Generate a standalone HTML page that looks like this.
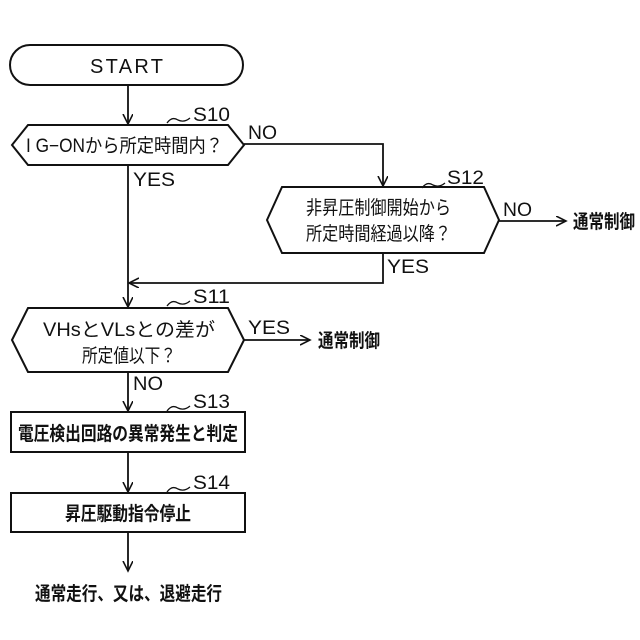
<!DOCTYPE html>
<html><head><meta charset="utf-8"><style>
html,body{margin:0;padding:0;background:#fff;}
svg{display:block;}
text{font-family:"Liberation Sans","Noto Sans CJK JP",sans-serif;fill:#111;}
.j{font-size:19px;font-weight:bold;}
.e{font-size:19px;}
.q{font-size:19px;}
</style></head><body>
<svg width="640" height="640" viewBox="0 0 640 640" xmlns="http://www.w3.org/2000/svg">
<defs><marker id="a" markerWidth="12" markerHeight="12" refX="10" refY="5" orient="auto" markerUnits="userSpaceOnUse"><path d="M0,0 L10,5 L0,10" fill="none" stroke="#111" stroke-width="1.6"/></marker></defs>
<g fill="none" stroke="#111" stroke-width="2">
<rect x="10" y="45" width="233" height="40" rx="20"/>
<polygon points="12,145 28,125 228,125 244,145 228,165 28,165"/>
<polygon points="267,220 282,187 484,187 499,220 484,253 282,253"/>
<polygon points="12,340 28,308 228,308 244,340 228,372 28,372"/>
<rect x="11" y="412" width="234" height="40"/>
<rect x="11" y="493" width="234" height="39"/>
</g>
<g fill="none" stroke="#111" stroke-width="1.8">
<line x1="128" y1="85" x2="128" y2="124" marker-end="url(#a)"/>
<polyline points="244,144 383,144 383,186" marker-end="url(#a)"/>
<line x1="128" y1="165" x2="128" y2="307" marker-end="url(#a)"/>
<polyline points="383,253 383,283 129,283" marker-end="url(#a)"/>
<line x1="499" y1="221" x2="566" y2="221" marker-end="url(#a)"/>
<line x1="244" y1="340" x2="310" y2="340" marker-end="url(#a)"/>
<line x1="128" y1="372" x2="128" y2="411" marker-end="url(#a)"/>
<line x1="128" y1="452" x2="128" y2="492" marker-end="url(#a)"/>
<line x1="128" y1="532" x2="128" y2="571" marker-end="url(#a)"/>
<path d="M167,123 q5,-7 11,-3 q6,3 12,-2" stroke-width="1.3"/>
<path d="M422,188 q5,-7 11,-3 q6,3 12,-2" stroke-width="1.3"/>
<path d="M167,306 q5,-7 11,-3 q6,3 12,-2" stroke-width="1.3"/>
<path d="M167,411 q5,-7 11,-3 q6,3 12,-2" stroke-width="1.3"/>
<path d="M167,492 q5,-7 11,-3 q6,3 12,-2" stroke-width="1.3"/>
</g>
<text x="90" y="73" class="e" textLength="73" lengthAdjust="spacing" style="font-size:20px">START</text>
<text x="193" y="121" class="e" textLength="37" lengthAdjust="spacingAndGlyphs">S10</text>
<text x="447" y="184" class="e" textLength="37" lengthAdjust="spacingAndGlyphs">S12</text>
<text x="193" y="303" class="e" textLength="37" lengthAdjust="spacingAndGlyphs">S11</text>
<text x="193" y="408" class="e" textLength="37" lengthAdjust="spacingAndGlyphs">S13</text>
<text x="193" y="489" class="e" textLength="37" lengthAdjust="spacingAndGlyphs">S14</text>
<text x="248" y="139" class="e" textLength="29" lengthAdjust="spacingAndGlyphs">NO</text>
<text x="133" y="186" class="e" textLength="42" lengthAdjust="spacingAndGlyphs">YES</text>
<text x="503" y="216" class="e" textLength="29" lengthAdjust="spacingAndGlyphs">NO</text>
<text x="387" y="273" class="e" textLength="42" lengthAdjust="spacingAndGlyphs">YES</text>
<text x="248" y="334" class="e" textLength="42" lengthAdjust="spacingAndGlyphs">YES</text>
<text x="133" y="390" class="e" textLength="30" lengthAdjust="spacingAndGlyphs">NO</text>
<text x="26" y="152" class="q" textLength="197" lengthAdjust="spacingAndGlyphs">I G−ONから所定時間内？</text>
<text x="306" y="214" class="q" textLength="145" lengthAdjust="spacingAndGlyphs">非昇圧制御開始から</text>
<text x="306" y="240" class="q" textLength="145" lengthAdjust="spacingAndGlyphs">所定時間経過以降？</text>
<text x="43" y="336" class="q" textLength="172" lengthAdjust="spacingAndGlyphs">VHsとVLsとの差が</text>
<text x="82" y="362" class="q" textLength="94" lengthAdjust="spacingAndGlyphs">所定値以下？</text>
<text x="18" y="440" class="j" textLength="220" lengthAdjust="spacingAndGlyphs">電圧検出回路の異常発生と判定</text>
<text x="65" y="520" class="j" textLength="126" lengthAdjust="spacingAndGlyphs">昇圧駆動指令停止</text>
<text x="573" y="228" class="j" textLength="62" lengthAdjust="spacingAndGlyphs">通常制御</text>
<text x="318" y="347" class="j" textLength="62" lengthAdjust="spacingAndGlyphs">通常制御</text>
<text x="35" y="600" class="j" textLength="187" lengthAdjust="spacingAndGlyphs">通常走行、又は、退避走行</text>
</svg>
</body></html>
